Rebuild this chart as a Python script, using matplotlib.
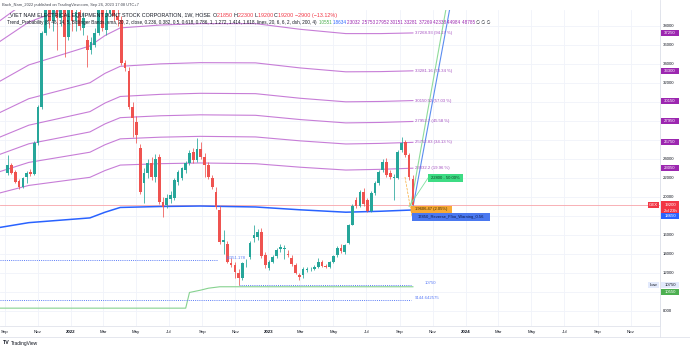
import matplotlib
matplotlib.use('Agg')
import matplotlib.pyplot as plt
import matplotlib.dates as mdates
from matplotlib.patches import Rectangle
import pandas as pd
import numpy as np

plt.rcParams['font.family'] = ['Liberation Sans', 'DejaVu Sans']

# ---------------- data ----------------
last_week = '2023-09-25'
opens = [22500, 23400, 22600, 21700, 21000, 22100, 22600, 22400, 25700, 29500,
         37300, 40300, 38500, 40000, 38800, 40200, 36800, 39800, 38500, 39500,
         37800, 36500, 35500, 36000, 37300, 39800, 37600, 39400, 40500, 39000,
         38600, 34100, 33300, 29500, 27900, 25200, 21500, 22500, 23600, 22100,
         24200, 19500, 19200, 19800, 19900, 21600, 22000, 22800, 23600, 24700,
         23900, 25000, 24200, 23400, 22000, 20500, 18600, 15300, 15000, 13000,
         12800, 12000, 11500, 13000, 13700, 15700, 15800, 16300, 13900, 12500,
         13200, 13800, 14500, 14500, 14000, 13600, 12800, 11800, 11800, 12300,
         12400, 12400, 12600, 13200, 12700, 12600, 13200, 13900, 14600, 14200,
         15200, 17100, 19700, 19000, 20500, 19700, 18500, 20400, 21500, 22800,
         23700, 22500, 22000, 22000, 24900, 25800, 24400, 21850]
highs = [24400, 23600, 22800, 21900, 22100, 22700, 22900, 25900, 29700, 37500,
         41500, 41500, 41000, 40800, 41000, 41000, 41000, 40500, 40500, 40200,
         39500, 37000, 36800, 37800, 40000, 41200, 39800, 41500, 41500, 39800,
         39000, 34400, 33700, 30000, 28500, 25600, 23000, 24000, 24200, 24500,
         24500, 20000, 20300, 20600, 22000, 22800, 23200, 23800, 24900, 25200,
         26200, 25800, 24600, 23700, 22300, 21000, 19000, 16500, 15400, 13600,
         13200, 12400, 13200, 13500, 15400, 17000, 16600, 16700, 14200, 13400,
         13900, 14600, 15000, 14900, 14400, 13900, 13000, 12000, 12600, 12600,
         12600, 12800, 13600, 13400, 12900, 13300, 13900, 14800, 15000, 15100,
         17200, 19300, 20000, 20700, 20900, 19900, 20600, 21700, 22800, 24000,
         24100, 22800, 22400, 24900, 26300, 26000, 24600, 22300]
lows = [22300, 22400, 21500, 20800, 20900, 21500, 22200, 22300, 25500, 29300,
        37000, 37800, 37500, 35500, 38000, 34700, 36500, 37500, 37500, 37600,
        37000, 33700, 35000, 35800, 37000, 37500, 37000, 39000, 38500, 38000,
        33900, 33300, 29300, 26300, 25700, 20300, 19400, 22000, 21800, 21600,
        19300, 17900, 18800, 19400, 19700, 21300, 21800, 22500, 23400, 23600,
        23700, 24000, 22100, 21900, 20800, 18700, 15100, 14000, 13000, 12600,
        11500, 10750, 11300, 12600, 13500, 15300, 15500, 13600, 12500, 12300,
        13000, 13600, 14200, 13500, 13700, 12700, 11900, 11300, 11500, 12100,
        12200, 12300, 12500, 12600, 12500, 12500, 13000, 13700, 14100, 14000,
        15000, 17000, 18800, 18900, 19100, 18400, 18400, 20200, 21300, 22600,
        22100, 21900, 19700, 21900, 24700, 24200, 21800, 19200]
closes = [23400, 22500, 21600, 21000, 22000, 22500, 22400, 25700, 29500, 37300,
          40300, 38500, 40000, 38800, 39800, 36800, 39800, 38500, 39500, 38000,
          38800, 35500, 36300, 37300, 39800, 37800, 39400, 40500, 39000, 38600,
          34100, 33600, 29500, 28300, 26500, 20500, 22500, 23600, 22100, 24000,
          19500, 18900, 19900, 20200, 21800, 22600, 23000, 23600, 24600, 23900,
          25000, 24200, 23400, 22100, 21000, 18900, 15300, 15500, 13200, 12800,
          12100, 11500, 13000, 13100, 15200, 16000, 16300, 13800, 12800, 13200,
          13700, 14400, 14700, 14600, 13900, 12900, 12000, 11600, 12400, 12400,
          12450, 12600, 13200, 12700, 12650, 13200, 13800, 14600, 14300, 14900,
          17000, 19000, 19000, 20500, 19300, 18500, 20400, 21500, 22600, 23700,
          22300, 22100, 22100, 24700, 25700, 24400, 22100, 19200]

band_dates = ['2021-08-23', '2021-10-15', '2022-02-05', '2022-03-05', '2022-04-02',
              '2022-06-15', '2022-08-28', '2022-12-08', '2023-03-01', '2023-05-24',
              '2023-07-27', '2023-09-25']
basis_vals = [16800, 17300, 17800, 18400, 18900, 19000, 19050, 18950, 18650, 18400, 18500, 18634]
dev_vals = [15400, 16600, 18100, 18600, 18900, 19100, 19200, 19300, 19000, 18800, 18700, 18635]
fib_levels = [0.236, 0.382, 0.5, 0.618, 0.786, 1, 1.272, 1.414, 1.618]
fib_labels = ['23032.2 (19.96 %)', '25752.83 (34.13 %)', '27952.7 (45.58 %)',
              '30150.52 (57.03 %)', '33281.16 (73.34 %)', '37268.93 (94.17 %)']
axis_fib_labels = ['23050', '25750', '27950', '30150', '33300', '37250']

low_dates = ['2021-08-23', '2022-08-01', '2022-08-08', '2022-08-29', '2022-09-12',
             '2022-10-03', '2023-09-25']
low_vals = [8300, 8300, 9950, 10200, 10400, 10551, 10551]

dot_levels = [13351.178, 10750, 9144.642575]
dot_starts = ['2021-08-23', '2022-11-07', '2021-08-23']
dot_ends = ['2022-09-27', '2023-09-21', '2023-09-21']
dot_texts = ['13351.178', '10750', '9144.642575']

green_trend_dates = ['2023-09-21', '2023-11-28']
green_trend_vals = [19100, 40700]
blue_trend_dates = ['2023-09-25', '2023-12-05']
blue_trend_vals = [18900, 40700]

last_price = 19200
y_ticks = list(range(8000, 40000, 2000))
month_ticks = ['2021-09-01', '2021-11-01', '2022-01-01', '2022-03-01', '2022-05-01',
               '2022-07-01', '2022-09-01', '2022-11-01', '2023-01-01', '2023-03-01',
               '2023-05-01', '2023-07-01', '2023-09-01', '2023-11-01', '2024-01-01',
               '2024-03-01', '2024-05-01', '2024-07-01', '2024-09-01', '2024-11-01']
month_labels = ['Sep', 'Nov', '2022', 'Mar', 'May', 'Jul', 'Sep', 'Nov', '2023', 'Mar',
                'May', 'Jul', 'Sep', 'Nov', '2024', 'Mar', 'May', 'Jul', 'Sep', 'Nov']

# ---------------- figure ----------------
W, H = 690, 350
fig = plt.figure(figsize=(6.9, 3.5), dpi=100)
fig.patch.set_facecolor('white')


def fx(px):
    return px / W


def fy(py):
    return 1 - py / H


ax = fig.add_axes([0, fy(326), fx(660), fy(10) - fy(326)])
ax.set_facecolor('white')
px_per_day = 0.541
x0 = mdates.date2num(pd.Timestamp('2021-09-01')) - 5 / px_per_day
x1 = x0 + 660 / px_per_day
ax.set_xlim(x0, x1)
ax.set_ylim(6421, 39684)
for s in ['top', 'left']:
    ax.spines[s].set_visible(False)
ax.spines['right'].set_color('#e0e3eb')
ax.spines['bottom'].set_color('#e0e3eb')
ax.spines['right'].set_linewidth(0.6)
ax.spines['bottom'].set_linewidth(0.6)
ax.set_xticks([])
ax.set_yticks([])

# grid
for t in y_ticks:
    ax.axhline(t, color='#f0f3fa', lw=0.6, zorder=0)
mt = [mdates.date2num(pd.Timestamp(d)) for d in month_ticks]
for m in mt:
    ax.axvline(m, color='#f0f3fa', lw=0.6, zorder=0)

# bands
bx = mdates.date2num(pd.to_datetime(band_dates))
basis = np.array(basis_vals, dtype=float)
dev = np.array(dev_vals, dtype=float)
for f in fib_levels:
    ax.plot(bx, basis + f * dev, color='#c77dd7', lw=0.8, zorder=2)
ax.plot(bx, basis, color='#2962ff', lw=1.1, zorder=2)

# lowest line
ax.plot(mdates.date2num(pd.to_datetime(low_dates)), low_vals, color='#86d28f', lw=0.8, zorder=2)

# dotted levels
for lv, s, e in zip(dot_levels, dot_starts, dot_ends):
    ax.plot([mdates.date2num(pd.Timestamp(s)), mdates.date2num(pd.Timestamp(e))], [lv, lv],
            color='#5b7cf7', lw=0.7, ls=(0, (1, 1.2)), zorder=2)

# current price line
ax.axhline(last_price, color='#f7a3a9', lw=0.6, zorder=1)

# candles
dates = pd.date_range(end=last_week, periods=len(opens), freq='7D')
xs = mdates.date2num(dates)
o = np.array(opens); c = np.array(closes); h = np.array(highs); l = np.array(lows)
cols = np.where(c >= o, '#26a69a', '#ef5350')
ax.vlines(xs, l, h, colors=cols, lw=0.55, zorder=3)
ax.bar(xs, np.maximum(np.abs(c - o), 60), bottom=np.minimum(o, c), width=5.0,
       color=cols, lw=0, zorder=4)

# trend lines
ax.plot(mdates.date2num(pd.to_datetime(green_trend_dates)), green_trend_vals,
        color='#8fdc9a', lw=0.8, zorder=3)
ax.plot(mdates.date2num(pd.to_datetime(blue_trend_dates)), blue_trend_vals,
        color='#5b8def', lw=0.8, zorder=3)

fig.canvas.draw()
renderer = fig.canvas.get_renderer()


def ypx(p):
    return H - ax.transData.transform((x0, p))[1]


def xpx(d):
    return ax.transData.transform((mdates.date2num(pd.Timestamp(d)), 0))[0]


# fib labels at right of lines
end_b = basis[-1]; end_d = dev[-1]
for f, s in zip(fib_levels[:6], fib_labels):
    fig.text(fx(415), fy(ypx(end_b + f * end_d)), s, fontsize=3.1, color='#a24cbf',
             ha='left', va='center')

# dotted labels
fig.text(fx(226), fy(ypx(dot_levels[0]) - 2), dot_texts[0], fontsize=3.1, color='#5b7cf7', va='center')
fig.text(fx(425), fy(ypx(dot_levels[1]) - 1.5), dot_texts[1], fontsize=3.1, color='#5b7cf7', va='center')
fig.text(fx(415), fy(ypx(dot_levels[2]) - 2), dot_texts[2], fontsize=3.1, color='#5b7cf7', va='center')

box_centers = []


def box(xl, yc, w, hh, bg, texts, fs=3.1, z=5):
    fig.add_artist(Rectangle((fx(xl), fy(yc + hh / 2)), w / W, hh / H, transform=fig.transFigure,
                             fc=bg, ec='none', zorder=z))
    for s, col, dy in texts:
        fig.text(fx(xl + w / 2), fy(yc + dy), s, fontsize=fs, color=col, ha='center', va='center',
                 zorder=z + 1)
    if xl >= 660:
        box_centers.append((yc - hh / 2, yc + hh / 2))


# green / orange / blue annotation labels
fig.add_artist(plt.Line2D([fx(409), fx(428)], [fy(ypx(19200) + 2), fy(ypx(22000))],
                          transform=fig.transFigure, color='#7fe0a0', lw=0.6))
box(428, ypx(22000), 35, 8, '#3ddc84', [('22800 - 50.00%', '#0b3d20', 0)], fs=3.0)
box(411, ypx(18700), 41, 7, '#f7a935', [('19606.47 (2.05%)', '#3a2a00', 0)], fs=3.0)
box(412, ypx(17900), 78, 8, '#4a78f0', [('17850_Reverse_Fibo_Warning_0.56', '#0d1b4c', 0)], fs=3.0)
fig.add_artist(plt.Line2D([fx(405), fx(412)], [fy(177), fy(ypx(17900))],
                          transform=fig.transFigure, color='#f7a935', lw=0.5, ls='--'))

# right axis value boxes
for f, s in zip(fib_levels[:6], axis_fib_labels):
    box(661, ypx(end_b + f * end_d), 18, 6, '#9c27b0', [(s, 'white', 0)])
box(661, ypx(last_price) + 3, 18, 13, '#f23645', [('19200', 'white', -3), ('2d 23h', 'white', 3)])
box(648, ypx(last_price), 11, 6, '#f23645', [('GEX', 'white', 0)])
box(661, ypx(end_b) + 6, 18, 6, '#2962ff', [('18650', 'white', 0)])
box(648, ypx(10750), 11, 6, '#e3eafc', [('Low', '#131722', 0)])
box(661, ypx(10750), 18, 6, '#e3eafc', [('10750', '#131722', 0)])
box(661, ypx(low_vals[-1]) + 5, 18, 6, '#4caf50', [('10550', 'white', 0)])

# right axis tick labels (hidden where a value box covers them)
for t in y_ticks:
    yt = ypx(t)
    if any(a - 2 < yt < b + 2 for a, b in box_centers):
        continue
    fig.text(fx(663), fy(yt), f'{t}', fontsize=3.1, color='#131722', ha='left', va='center')

# time axis labels
for d, lab in zip(month_ticks, month_labels):
    fw = 'bold' if lab.isdigit() else 'normal'
    fig.text(fx(xpx(d)), fy(332), lab, fontsize=3.2, color='#131722', ha='center', va='center',
             fontweight=fw)

# bottom / right frame lines
fig.add_artist(plt.Line2D([0, 1], [fy(337), fy(337)], transform=fig.transFigure, color='#e0e3eb', lw=0.6))
fig.add_artist(plt.Line2D([fx(660), fx(660)], [fy(337), 1], transform=fig.transFigure, color='#e0e3eb', lw=0.6))


def fit_text(x, y, s, width_px, **kw):
    t = fig.text(fx(x), fy(y), s, fontsize=10, ha='left', va='center', **kw)
    w = t.get_window_extent(renderer).width
    t.set_fontsize(10 * width_px / w)
    return t


def runs(x, y, parts, fs):
    for s, col in parts:
        t = fig.text(fx(x), fy(y), s, fontsize=fs, color=col, ha='left', va='center')
        x += t.get_window_extent(renderer).width
    return x


fit_text(2, 5, 'Bach_Nam_2022 published on TradingView.com, Sep 26, 2023 17:08 UTC+7', 138, color='#434651')
t2 = fit_text(7, 15.5, '_VIET NAM ELECTRICAL EQUIPMENT JOINT STOCK CORPORATION, 1W, HOSE', 203, color='#131722')
fs2 = t2.get_fontsize()
runs(213, 15.5, [('O', '#131722'), ('21850 ', '#f23645'), ('H', '#131722'), ('22300 ', '#f23645'),
                 ('L', '#131722'), ('19200 ', '#f23645'), ('C', '#131722'), ('19200 ', '#f23645'),
                 ('\u22122900 (\u221213.12%)', '#f23645')], fs2)
t3 = fit_text(7, 22.5, 'Trend_Probability (8, 46, 14, 5, Bollinger Bands, sma, 20, 2, close, 0.236, 0.382, '
              '0.5, 0.618, 0.786, 1, 1.272, 1.414, 1.618, lines, 20, 6, 6, 2, dsh, 200, 4)', 308, color='#131722')
fs3 = t3.get_fontsize()
runs(319, 22.5, [('10551 ', '#4caf50'), ('18634 ', '#2962ff'), ('23032 ', '#9c27b0'),
                 ('25753 ', '#9c27b0'), ('27952 ', '#9c27b0'), ('30151 ', '#9c27b0'),
                 ('33281 ', '#9c27b0'), ('37269 ', '#9c27b0'), ('42338 ', '#9c27b0'),
                 ('44984 ', '#9c27b0'), ('48785 ', '#9c27b0'), ('\u2205 \u2205 \u2205', '#131722')], fs3)

# TradingView logo
fig.text(fx(3), fy(343), 'TV', fontsize=3.8, fontweight='bold', color='#131722', ha='left', va='center')
fig.text(fx(11), fy(343), 'TradingView', fontsize=3.5, color='#131722', ha='left', va='center')

fig.savefig('out.png', dpi=100, facecolor='white')
